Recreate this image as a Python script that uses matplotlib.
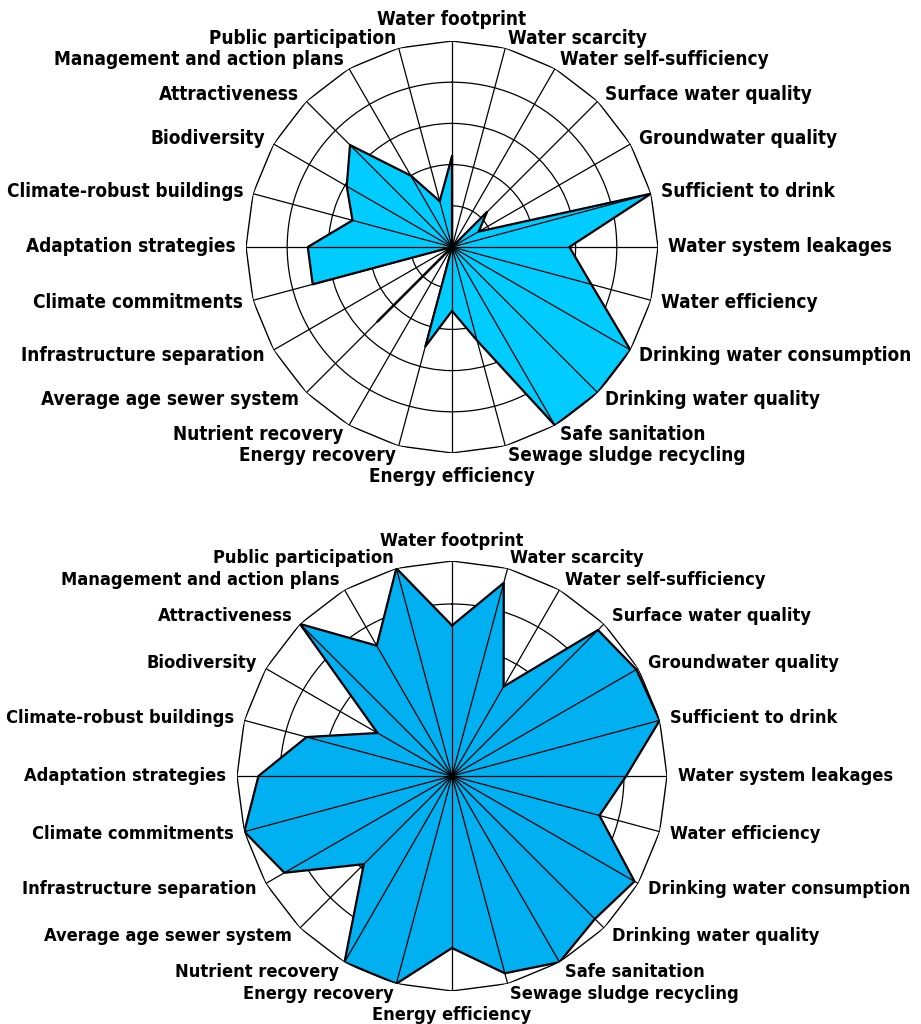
"""Two radar charts of the water-sustainability indicators (two cities / scenarios)."""
import matplotlib
matplotlib.use("Agg")
import matplotlib.pyplot as plt
import numpy as np

CATEGORIES = [
    "Water footprint", "Water scarcity", "Water self-sufficiency", "Surface water quality",
    "Groundwater quality", "Sufficient to drink", "Water system leakages", "Water efficiency",
    "Drinking water consumption", "Drinking water quality", "Safe sanitation",
    "Sewage sludge recycling", "Energy efficiency", "Energy recovery", "Nutrient recovery",
    "Average age sewer system", "Infrastructure separation", "Climate commitments",
    "Adaptation strategies", "Climate-robust buildings", "Biodiversity", "Attractiveness",
    "Management and action plans", "Public participation",
]
TOP_VALUES = [44, 0, 0, 24, 15, 100, 57, 70, 100, 100, 100, 47,
              31, 50, 0, 51, 0, 70, 70, 50, 59, 70, 40, 23]
BOTTOM_VALUES = [70, 93, 48, 96, 99, 100, 81, 71, 98, 94, 100, 95,
                 80, 100, 100, 58, 90, 100, 90, 70, 40, 100, 70, 100]
RINGS = [20, 40, 60, 80]
VMAX = 100

TOP_COLOR = "#00CCFF"
BOTTOM_COLOR = "#00B0F0"
FONT = dict(family=["DejaVu Sans Condensed", "DejaVu Sans"], fontstretch="condensed",
            fontweight="bold")


def radar(ax, values, color, fontsize, top_r, bottom_r):
    n = len(CATEGORIES)
    angles = np.arange(n) * 2 * np.pi / n
    closed = np.append(angles, angles[0])

    ax.set_theta_zero_location("N")
    ax.set_theta_direction(-1)
    ax.set_ylim(0, VMAX)
    ax.spines["polar"].set_visible(False)
    ax.set_axisbelow(True)

    # inner rings (circles) and spokes
    ax.set_rgrids(RINGS, labels=[""] * len(RINGS))
    ax.set_thetagrids(np.degrees(angles), labels=[""] * n)
    ax.grid(True, color="black", linewidth=0.9)
    # outer polygon frame
    ax.plot(closed, [VMAX] * len(closed), color="black", linewidth=1.0, zorder=1)

    vals = np.append(values, values[0])
    ax.fill(closed, vals, color=color, zorder=2)
    ax.vlines(angles, 0, values, colors="black", linewidth=0.9, zorder=3)
    ax.plot(closed, vals, color="black", linewidth=1.6, zorder=4)

    for ang, label in zip(angles, CATEGORIES):
        s = np.sin(ang)
        r = VMAX * 1.05
        if abs(s) < 1e-6:
            ha = "center"
            if np.cos(ang) > 0:
                va, r = "bottom", VMAX * top_r
            else:
                va, r = "top", VMAX * bottom_r
        else:
            ha = "left" if s > 0 else "right"
            va = "center"
        ax.text(ang, r, label, ha=ha, va=va, clip_on=False, fontsize=fontsize, **FONT)


fig = plt.figure(figsize=(9.21, 10.24), dpi=100)
W, H = 921, 1024

# top chart: centre (452, 247), radius 206 px
ax_top = fig.add_axes([(452 - 206) / W, (H - 247 - 206) / H, 412 / W, 412 / H], projection="polar")
radar(ax_top, TOP_VALUES, TOP_COLOR, 13.6, 1.06, 1.07)

# bottom chart: centre (452, 776), radius 215 px
ax_bot = fig.add_axes([(452 - 215) / W, (H - 776 - 215) / H, 430 / W, 430 / H], projection="polar")
radar(ax_bot, BOTTOM_VALUES, BOTTOM_COLOR, 13.1, 1.05, 1.07)

fig.savefig("out.png", dpi=100, facecolor="white")
